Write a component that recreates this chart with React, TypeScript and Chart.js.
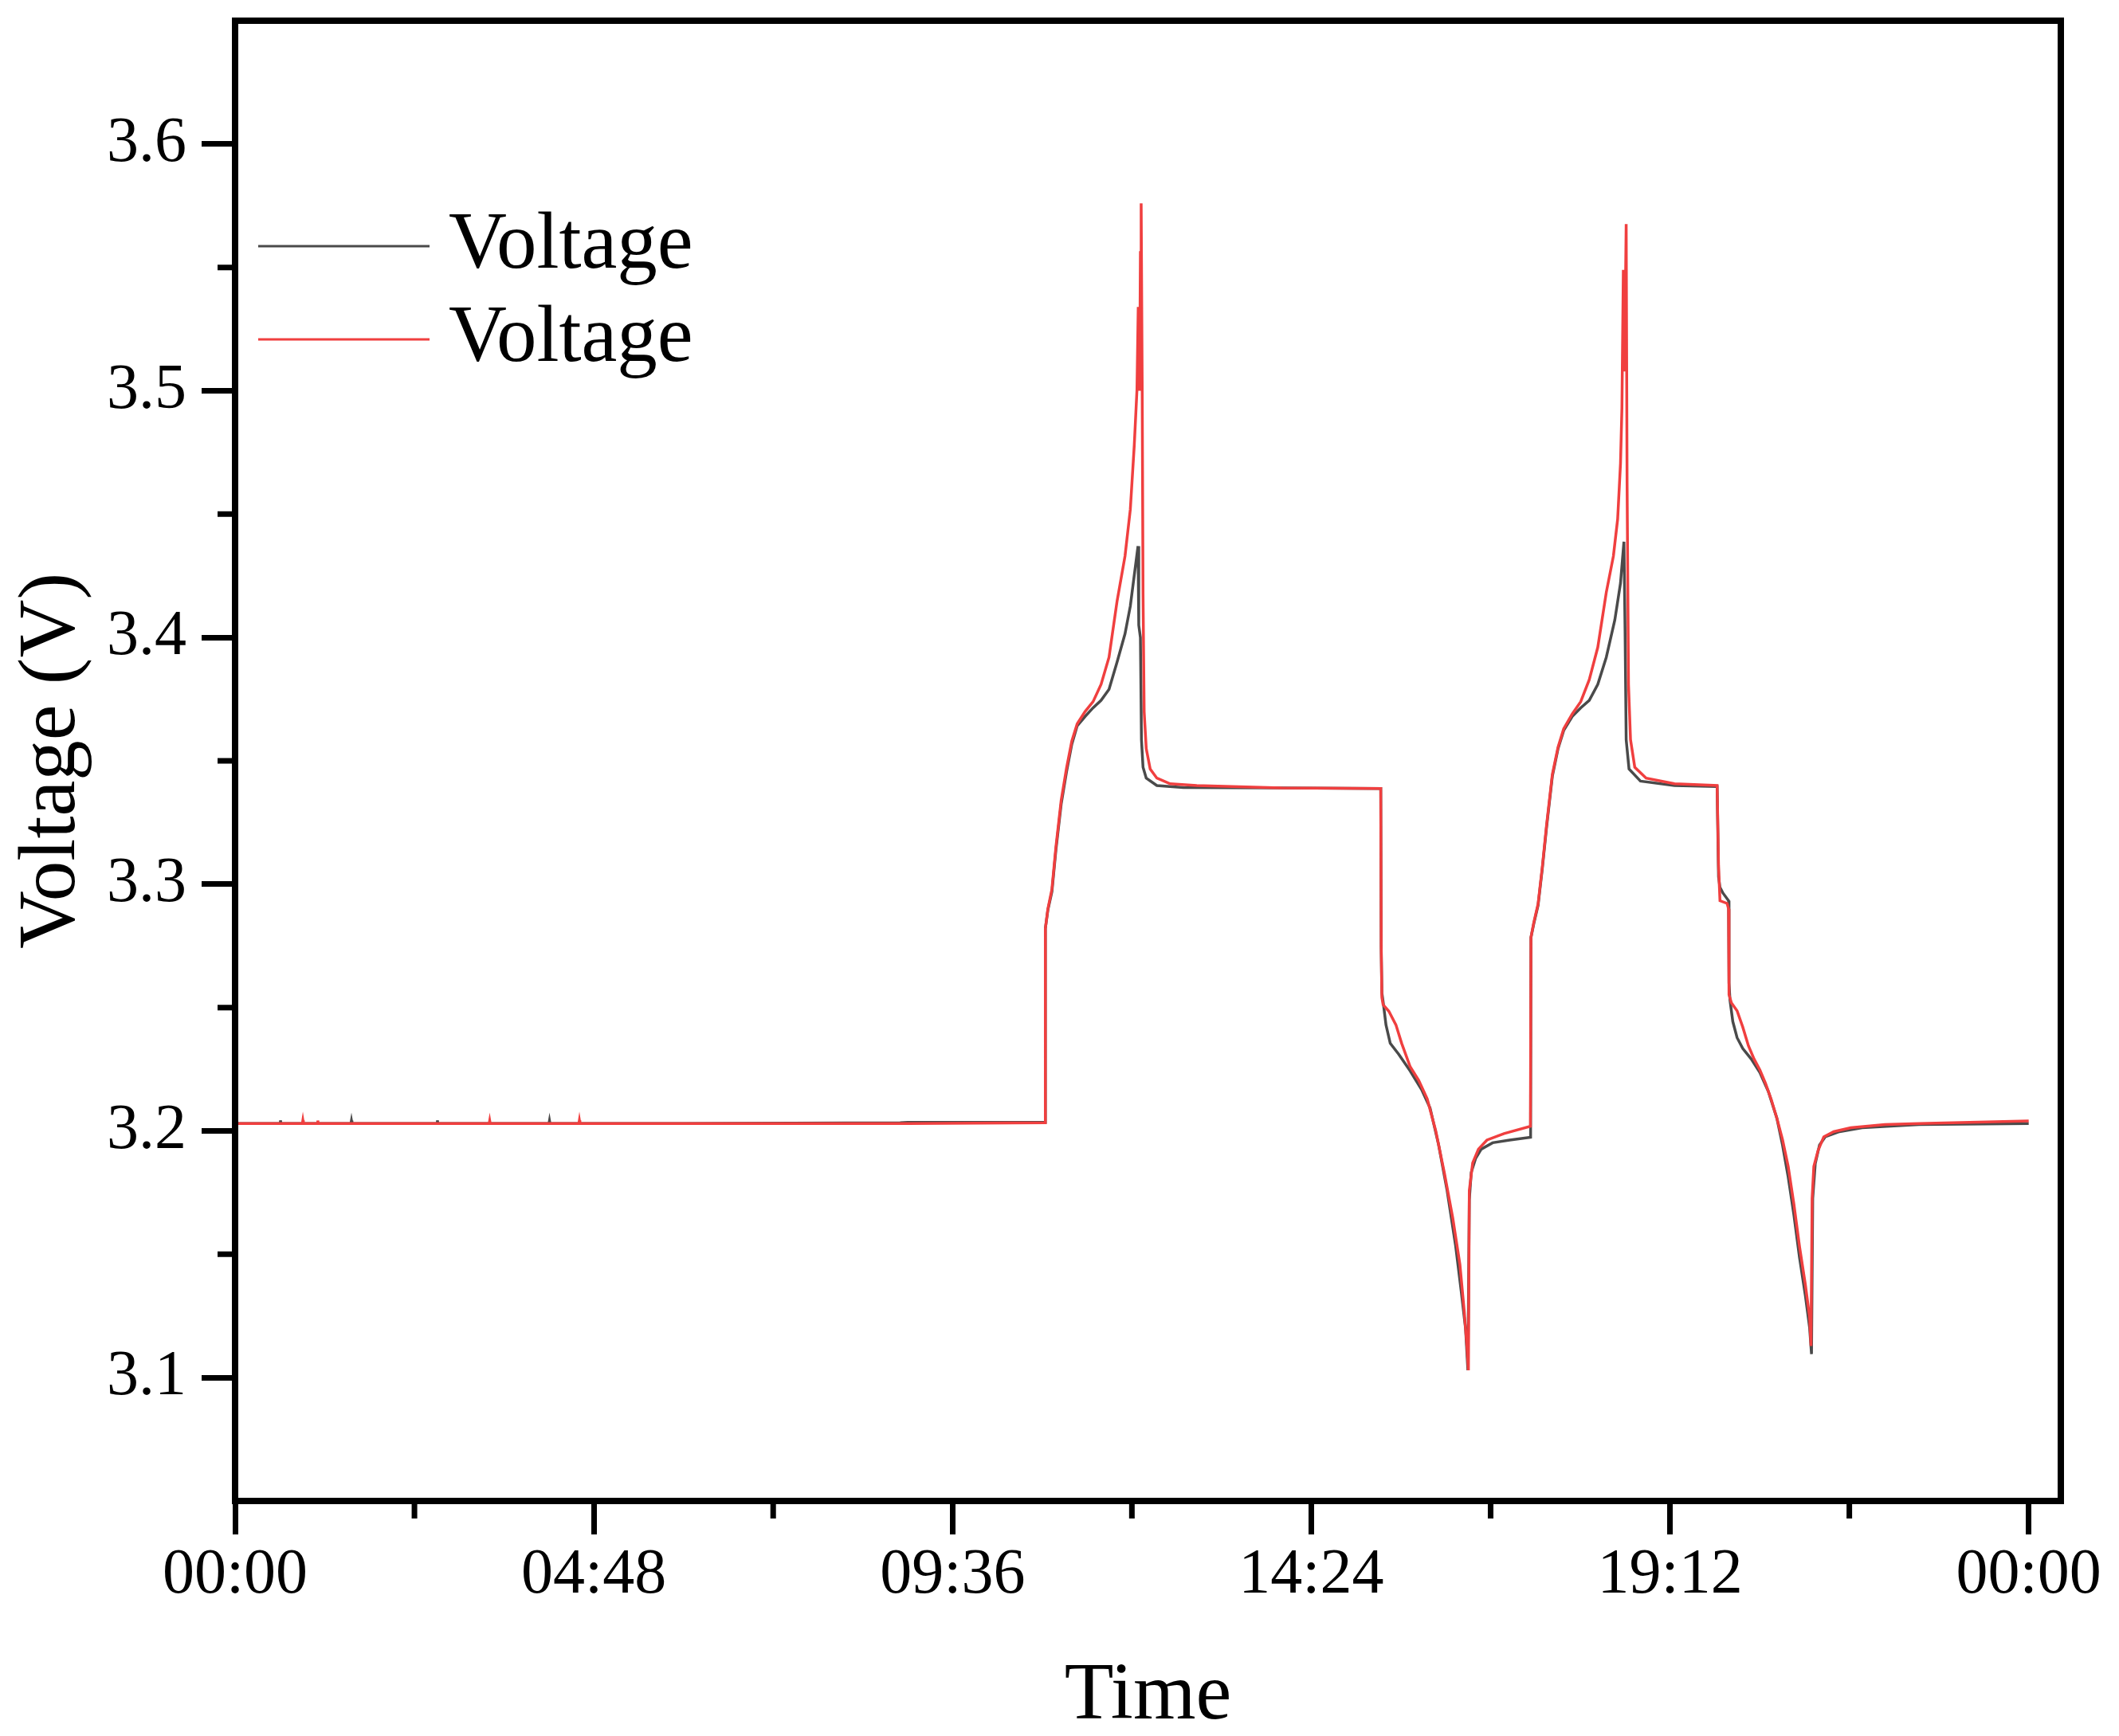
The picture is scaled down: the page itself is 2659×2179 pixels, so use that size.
import React, { useEffect, useRef } from 'react';
import { Chart, registerables } from 'chart.js';

Chart.register(...registerables);

// ---- data (time in hours, voltage in V) ----
const timeBlack = [
  0, 0.6, 0.607, 0.614, 1.55, 1.557, 1.564, 2.7, 2.707, 2.714, 4.2, 4.207, 4.214, 6.0, 8.9, 9.0, 10.838, 10.842,
  10.876, 10.93, 10.983, 11.054, 11.125, 11.196, 11.268, 11.374,
  11.481, 11.588, 11.694, 11.801, 11.908, 11.979, 12.05, 12.082, 12.092, 12.114, 12.128, 12.149,
  12.192, 12.334, 12.69, 14.0, 15.33, 15.336, 15.345, 15.362, 15.4, 15.457, 15.572, 15.724, 15.876,
  15.99, 16.104, 16.218, 16.332, 16.408, 16.465, 16.496, 16.515, 16.541, 16.599, 16.675, 16.827,
  17.055, 17.335, 17.34, 17.378, 17.435, 17.492, 17.549, 17.626, 17.702, 17.778, 17.892, 18.006,
  18.12, 18.234, 18.348, 18.462, 18.538, 18.584, 18.599, 18.614, 18.652, 18.805, 19.261, 19.831,
  19.85, 19.869, 19.907, 19.984, 19.99, 20.003, 20.041, 20.098, 20.174, 20.288, 20.402, 20.516,
  20.63, 20.706, 20.782, 20.858, 20.934, 21.011, 21.068, 21.094, 21.11, 21.144, 21.201, 21.277,
  21.467, 21.771, 22.532, 24.0,
];
const voltBlack = [
  3.203, 3.203, 3.2043, 3.203, 3.203, 3.2042, 3.203, 3.203, 3.2043, 3.203, 3.203, 3.2042, 3.203, 3.203, 3.2033, 3.2035, 3.2035, 3.282,
  3.2896, 3.297, 3.3138, 3.3325, 3.3455, 3.3567, 3.3642, 3.368,
  3.3715, 3.3745, 3.379, 3.39, 3.4015, 3.4127, 3.4295, 3.437, 3.405, 3.4, 3.3586, 3.3474,
  3.343, 3.34, 3.3392, 3.339, 3.3388, 3.2746, 3.256, 3.2523, 3.243, 3.2355, 3.231, 3.2243, 3.2168,
  3.2093, 3.1944, 3.1758, 3.1534, 3.1347, 3.1198, 3.103, 3.172, 3.1832, 3.1888, 3.1926, 3.1952,
  3.1963, 3.1974, 3.2784, 3.284, 3.2914, 3.3064, 3.3232, 3.3437, 3.3549, 3.3623, 3.368, 3.3715,
  3.3745, 3.381, 3.392, 3.4071, 3.422, 3.4388, 3.4034, 3.3586, 3.3467, 3.3418, 3.34, 3.3396,
  3.303, 3.2987, 3.2965, 3.2933, 3.26, 3.253, 3.2443, 3.2378, 3.2334, 3.2291, 3.2237, 3.216,
  3.2052, 3.1943, 3.1813, 3.166, 3.1486, 3.1334, 3.1204, 3.1095, 3.1726, 3.1867, 3.1943, 3.1976,
  3.1997, 3.2013, 3.2026, 3.203,
];
const timeRed = [
  0, 0.9, 0.907, 0.914, 1.1, 1.107, 1.114, 3.4, 3.407, 3.414, 4.6, 4.607, 4.614, 6.0, 9.0, 10.838, 10.842,
  10.876, 10.93, 10.983, 11.054, 11.125, 11.196, 11.268, 11.374,
  11.481, 11.588, 11.694, 11.801, 11.908, 11.979, 12.032, 12.068, 12.085, 12.103, 12.114, 12.124,
  12.138, 12.149, 12.164, 12.192, 12.245, 12.334, 12.512, 12.868, 14.0, 15.33, 15.336, 15.345,
  15.362, 15.438, 15.533, 15.61, 15.724, 15.838, 15.952, 16.066, 16.18, 16.294, 16.389, 16.446,
  16.484, 16.503, 16.515, 16.56, 16.637, 16.751, 16.979, 17.333, 17.34, 17.378, 17.435, 17.492,
  17.549, 17.626, 17.702, 17.778, 17.892, 18.006, 18.12, 18.234, 18.348, 18.443, 18.5, 18.538,
  18.557, 18.576, 18.592, 18.614, 18.626, 18.645, 18.672, 18.729, 18.881, 19.261, 19.831, 19.85,
  19.869, 19.965, 19.984, 19.99, 20.022, 20.098, 20.174, 20.25, 20.326, 20.402, 20.478, 20.554,
  20.63, 20.706, 20.782, 20.858, 20.934, 21.011, 21.068, 21.087, 21.102, 21.125, 21.182, 21.258,
  21.391, 21.619, 22.076, 22.532, 24.0,
];
const voltRed = [
  3.203, 3.203, 3.2043, 3.203, 3.203, 3.2042, 3.203, 3.203, 3.2042, 3.203, 3.203, 3.2043, 3.203, 3.203, 3.203, 3.2033, 3.282,
  3.29, 3.298, 3.315, 3.334, 3.347, 3.358, 3.365, 3.37,
  3.374, 3.381, 3.392, 3.4146, 3.433, 3.4519, 3.478, 3.5004, 3.534, 3.5, 3.556, 3.576,
  3.5, 3.418, 3.37, 3.355, 3.3467, 3.343, 3.3407, 3.34, 3.339, 3.3388, 3.2746, 3.2541,
  3.2511, 3.2485, 3.243, 3.2355, 3.226, 3.2205, 3.213, 3.2, 3.1832, 3.1646, 3.1459, 3.1273,
  3.1123, 3.103, 3.1758, 3.187, 3.1926, 3.1963, 3.1989, 3.2019, 3.2784, 3.2845, 3.292, 3.307,
  3.324, 3.3445, 3.3555, 3.363, 3.369, 3.374, 3.3829, 3.396, 3.4183, 3.433, 3.448, 3.4705,
  3.4929, 3.549, 3.5078, 3.5676, 3.463, 3.381, 3.3586, 3.3474, 3.343, 3.3407, 3.34, 3.3074,
  3.2933, 3.2922, 3.29, 3.2552, 3.2519, 3.2487, 3.2421, 3.2345, 3.2291, 3.2248, 3.2193, 3.2128,
  3.2052, 3.1965, 3.1856, 3.1704, 3.153, 3.1378, 3.1247, 3.1128, 3.1726, 3.1856, 3.1921, 3.1976,
  3.1997, 3.2013, 3.2026, 3.203, 3.204,
];

const seriesLabels = ['Voltage', 'Voltage'];
const seriesColors = ['#4a4a4a', '#f03f3f'];
const xMajorTicks = [0, 4.8, 9.6, 14.4, 19.2, 24];
const xMinorTicks = [2.4, 7.2, 12, 16.8, 21.6];
const yMajorTicks = [3.1, 3.2, 3.3, 3.4, 3.5, 3.6];
const yMinorTicks = [3.15, 3.25, 3.35, 3.45, 3.55];
const xTitle = 'Time';
const yTitle = 'Voltage (V)';

const FONT = "'Liberation Serif', 'Times New Roman', serif";

const pad2 = (n: number) => (n < 10 ? '0' : '') + n;
const fmtHours = (h: number) => {
  const m = Math.round(h * 60) % 1440;
  return pad2(Math.floor(m / 60)) + ':' + pad2(m % 60);
};

const framePlugin = {
  id: 'frameAndLegend',
  afterDraw(chart: any) {
    const { ctx, chartArea } = chart;
    const xs = chart.scales.x;
    const ys = chart.scales.y;
    ctx.save();
    ctx.strokeStyle = '#000';
    ctx.lineWidth = 8;
    ctx.strokeRect(chartArea.left, chartArea.top, chartArea.right - chartArea.left, chartArea.bottom - chartArea.top);
    ctx.lineWidth = 7;
    ctx.beginPath();
    xMinorTicks.forEach((v) => {
      const px = xs.getPixelForValue(v);
      ctx.moveTo(px, chartArea.bottom + 4);
      ctx.lineTo(px, chartArea.bottom + 22);
    });
    yMinorTicks.forEach((v) => {
      const py = ys.getPixelForValue(v);
      ctx.moveTo(chartArea.left - 4, py);
      ctx.lineTo(chartArea.left - 22, py);
    });
    ctx.stroke();
    chart.data.datasets.forEach((ds: any, i: number) => {
      const y = chartArea.top + 283 + i * 117;
      const x0 = chartArea.left + 29;
      ctx.strokeStyle = ds.borderColor;
      ctx.lineWidth = 3;
      ctx.beginPath();
      ctx.moveTo(x0, y);
      ctx.lineTo(x0 + 215, y);
      ctx.stroke();
      ctx.fillStyle = '#000';
      ctx.font = `101px ${FONT}`;
      ctx.textBaseline = 'middle';
      ctx.textAlign = 'left';
      ctx.fillText(ds.label, x0 + 239, y);
    });
    ctx.restore();
  },
};

export default function App() {
  const ref = useRef<HTMLCanvasElement | null>(null);
  useEffect(() => {
    if (!ref.current) return;
    const mk = (t: number[], v: number[]) => t.map((x, i) => ({ x, y: v[i] }));
    const chart = new Chart(ref.current, {
      type: 'line',
      data: {
        datasets: [
          {
            label: seriesLabels[0],
            data: mk(timeBlack, voltBlack),
            borderColor: seriesColors[0],
            borderWidth: 3.5,
            pointRadius: 0,
            tension: 0,
            order: 1,
          },
          {
            label: seriesLabels[1],
            data: mk(timeRed, voltRed),
            borderColor: seriesColors[1],
            borderWidth: 3.5,
            pointRadius: 0,
            tension: 0,
            order: 0,
          },
        ],
      },
      options: {
        animation: false,
        responsive: false,
        devicePixelRatio: 1,
        layout: { padding: { left: 0, right: 73, top: 26, bottom: 0 } },
        plugins: { legend: { display: false }, tooltip: { enabled: false } },
        scales: {
          x: {
            type: 'linear',
            min: 0,
            max: 24.43,
            afterBuildTicks: (s: any) => {
              s.ticks = xMajorTicks.map((v) => ({ value: v }));
            },
            afterFit: (s: any) => {
              s.height = 295;
              s.paddingLeft = 0;
              s.paddingRight = 0;
            },
            ticks: {
              autoSkip: false,
              maxRotation: 0,
              padding: 4,
              color: '#000',
              font: { family: FONT, size: 80 },
              callback: (v: any) => fmtHours(Number(v)),
            },
            grid: { display: true, drawOnChartArea: false, drawTicks: true, tickLength: 42, tickWidth: 7, tickColor: '#000' },
            border: { display: true, width: 8, color: '#000' },
            title: {
              display: true,
              text: xTitle,
              color: '#000',
              font: { family: FONT, size: 101, lineHeight: 0.96 },
              padding: { top: 0, bottom: 0 },
            },
          },
          y: {
            type: 'linear',
            min: 3.05,
            max: 3.65,
            afterBuildTicks: (s: any) => {
              s.ticks = yMajorTicks.map((v) => ({ value: v }));
            },
            afterFit: (s: any) => {
              s.width = 295;
              s.paddingTop = 0;
              s.paddingBottom = 0;
            },
            ticks: {
              padding: 19,
              color: '#000',
              font: { family: FONT, size: 80 },
              callback: (v: any) => Number(v).toFixed(1),
            },
            grid: { display: true, drawOnChartArea: false, drawTicks: true, tickLength: 42, tickWidth: 7, tickColor: '#000' },
            border: { display: true, width: 8, color: '#000' },
            title: {
              display: true,
              text: yTitle,
              color: '#000',
              font: { family: FONT, size: 101, lineHeight: 1.2 },
              padding: { top: 6, bottom: 0 },
            },
          },
        },
      },
      plugins: [framePlugin],
    } as any);
    return () => chart.destroy();
  }, []);
  return (
    <div style={{ position: 'fixed', left: 0, top: 0, width: 2659, height: 2179, background: '#fff' }}>
      <canvas ref={ref} width={2659} height={2179} style={{ display: 'block', width: 2659, height: 2179 }} />
    </div>
  );
}
